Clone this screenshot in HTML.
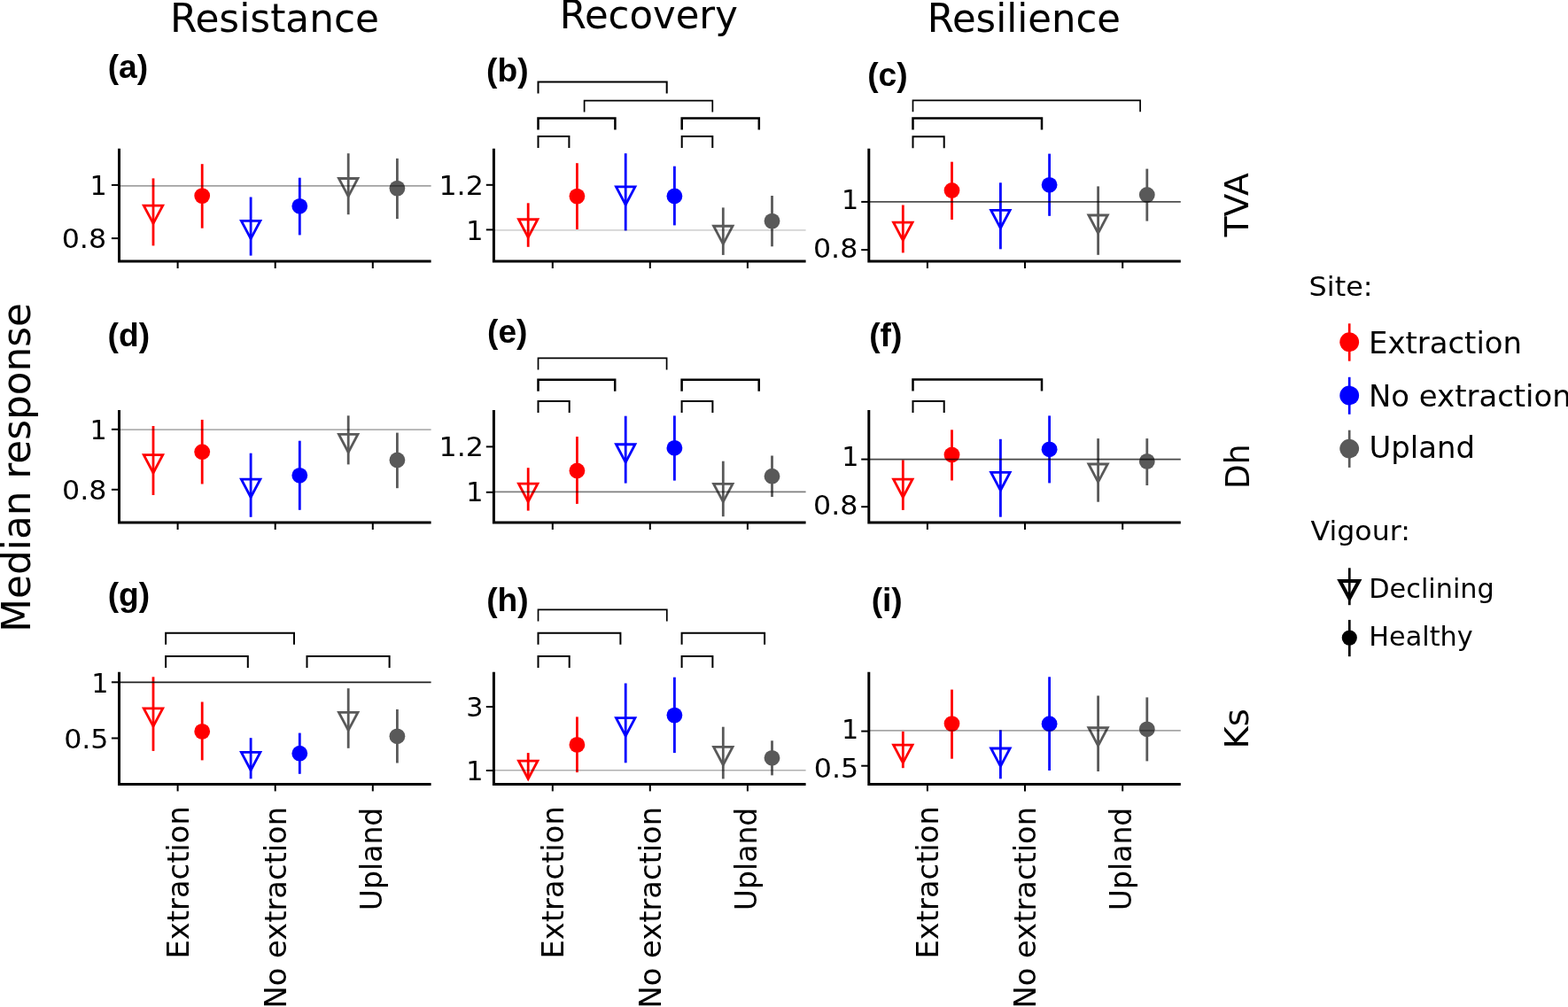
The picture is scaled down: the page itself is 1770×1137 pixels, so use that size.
<!DOCTYPE html>
<html><head><meta charset="utf-8"><title>Median response figure</title>
<style>html,body{margin:0;padding:0;background:#fff;overflow:hidden}svg{display:block}</style>
</head><body>
<svg width="1770" height="1137" viewBox="0 0 1770 1137">
<rect width="1770" height="1137" fill="#fff"/>
<line x1="173" y1="201.4" x2="173" y2="277.4" stroke="#ff0000" stroke-width="2.8"/>
<path d="M162.27 232.05L183.73 232.05L173 252.35Z" fill="none" stroke="#ff0000" stroke-width="2.8" stroke-miterlimit="10"/>
<line x1="228.2" y1="185.2" x2="228.2" y2="257.7" stroke="#ff0000" stroke-width="2.8"/>
<circle cx="228.2" cy="221.1" r="8.9" fill="#ff0000"/>
<line x1="283.1" y1="222.5" x2="283.1" y2="288.6" stroke="#0000ff" stroke-width="2.8"/>
<path d="M272.37 249.3L293.83 249.3L283.1 269.6Z" fill="none" stroke="#0000ff" stroke-width="2.8" stroke-miterlimit="10"/>
<line x1="338.3" y1="200.7" x2="338.3" y2="265.4" stroke="#0000ff" stroke-width="2.8"/>
<circle cx="338.3" cy="232.8" r="8.9" fill="#0000ff"/>
<line x1="393.2" y1="173.2" x2="393.2" y2="242.2" stroke="#595959" stroke-width="2.8"/>
<path d="M382.47 201.5L403.93 201.5L393.2 221.8Z" fill="none" stroke="#595959" stroke-width="2.8" stroke-miterlimit="10"/>
<line x1="448.4" y1="178.9" x2="448.4" y2="247.1" stroke="#595959" stroke-width="2.8"/>
<circle cx="448.4" cy="212.6" r="8.9" fill="#595959"/>
<line x1="134.5" y1="209.8" x2="486.6" y2="209.8" stroke="#000" stroke-opacity="0.37" stroke-width="1.7"/>
<path d="M134.5 167.7V295H486.6" fill="none" stroke="#000" stroke-width="3"/>
<line x1="200.6" y1="295" x2="200.6" y2="303" stroke="#000" stroke-width="2"/>
<line x1="310.7" y1="295" x2="310.7" y2="303" stroke="#000" stroke-width="2"/>
<line x1="420.8" y1="295" x2="420.8" y2="303" stroke="#000" stroke-width="2"/>
<line x1="125.9" y1="208.9" x2="134.5" y2="208.9" stroke="#000" stroke-width="2"/>
<text transform="translate(101.54 220.46)" style="font-family:'DejaVu Sans','Liberation Sans',sans-serif;font-size:30.2px">1</text>
<line x1="125.9" y1="269.1" x2="134.5" y2="269.1" stroke="#000" stroke-width="2"/>
<text transform="translate(69.7 280.31) scale(1.05 1)" style="font-family:'DejaVu Sans','Liberation Sans',sans-serif;font-size:30.2px">0.8</text>
<text transform="translate(121.64 88.07)" style="font-family:'Liberation Sans',Arial,sans-serif;font-weight:bold;font-size:37.2px">(a)</text>
<line x1="596.2" y1="229.3" x2="596.2" y2="278.8" stroke="#ff0000" stroke-width="2.8"/>
<path d="M585.47 247.75L606.93 247.75L596.2 268.05Z" fill="none" stroke="#ff0000" stroke-width="2.8" stroke-miterlimit="10"/>
<line x1="651.4" y1="184.2" x2="651.4" y2="259" stroke="#ff0000" stroke-width="2.8"/>
<circle cx="651.4" cy="221.6" r="8.9" fill="#ff0000"/>
<line x1="706.2" y1="173.2" x2="706.2" y2="260.4" stroke="#0000ff" stroke-width="2.8"/>
<path d="M695.47 210.93L716.93 210.93L706.2 231.23Z" fill="none" stroke="#0000ff" stroke-width="2.8" stroke-miterlimit="10"/>
<line x1="761.4" y1="187.7" x2="761.4" y2="254.4" stroke="#0000ff" stroke-width="2.8"/>
<circle cx="761.4" cy="221.5" r="8.9" fill="#0000ff"/>
<line x1="816.3" y1="234.4" x2="816.3" y2="287.9" stroke="#595959" stroke-width="2.8"/>
<path d="M805.57 255.25L827.03 255.25L816.3 275.55Z" fill="none" stroke="#595959" stroke-width="2.8" stroke-miterlimit="10"/>
<line x1="871.5" y1="221" x2="871.5" y2="278.3" stroke="#595959" stroke-width="2.8"/>
<circle cx="871.5" cy="249.6" r="8.9" fill="#595959"/>
<line x1="557.4" y1="259.8" x2="909.6" y2="259.8" stroke="#000" stroke-opacity="0.17" stroke-width="1.7"/>
<path d="M557.4 167.7V295H909.6" fill="none" stroke="#000" stroke-width="3"/>
<line x1="623.8" y1="295" x2="623.8" y2="303" stroke="#000" stroke-width="2"/>
<line x1="733.8" y1="295" x2="733.8" y2="303" stroke="#000" stroke-width="2"/>
<line x1="843.9" y1="295" x2="843.9" y2="303" stroke="#000" stroke-width="2"/>
<line x1="548.8" y1="208.8" x2="557.4" y2="208.8" stroke="#000" stroke-width="2"/>
<text transform="translate(495.45 220.31) scale(1.05 1)" style="font-family:'DejaVu Sans','Liberation Sans',sans-serif;font-size:30.2px">1.2</text>
<line x1="548.8" y1="259.4" x2="557.4" y2="259.4" stroke="#000" stroke-width="2"/>
<text transform="translate(526.24 270.56)" style="font-family:'DejaVu Sans','Liberation Sans',sans-serif;font-size:30.2px">1</text>
<path d="M607.5 105.6V92.6H752.7V105.6" fill="none" stroke="#000" stroke-width="2"/>
<path d="M659.6 126.6V113.6H804.3V126.6" fill="none" stroke="#000" stroke-width="1.7"/>
<path d="M607.5 146.6V133.6H694.4V146.6" fill="none" stroke="#000" stroke-width="2.5"/>
<path d="M769.7 146.6V133.6H856.8V146.6" fill="none" stroke="#000" stroke-width="2.5"/>
<path d="M607.5 167V154H642.4V167" fill="none" stroke="#000" stroke-width="2"/>
<path d="M769.7 167V154H804.3V167" fill="none" stroke="#000" stroke-width="2"/>
<text transform="translate(549.04 92.17)" style="font-family:'Liberation Sans',Arial,sans-serif;font-weight:bold;font-size:37.2px">(b)</text>
<line x1="1019.3" y1="231.5" x2="1019.3" y2="285.4" stroke="#ff0000" stroke-width="2.8"/>
<path d="M1008.57 251.05L1030.03 251.05L1019.3 271.35Z" fill="none" stroke="#ff0000" stroke-width="2.8" stroke-miterlimit="10"/>
<line x1="1074.5" y1="182.7" x2="1074.5" y2="248" stroke="#ff0000" stroke-width="2.8"/>
<circle cx="1074.5" cy="215" r="8.9" fill="#ff0000"/>
<line x1="1129.4" y1="206.3" x2="1129.4" y2="281.3" stroke="#0000ff" stroke-width="2.8"/>
<path d="M1118.67 237.33L1140.13 237.33L1129.4 257.63Z" fill="none" stroke="#0000ff" stroke-width="2.8" stroke-miterlimit="10"/>
<line x1="1184.6" y1="173.6" x2="1184.6" y2="243.8" stroke="#0000ff" stroke-width="2.8"/>
<circle cx="1184.6" cy="208.8" r="8.9" fill="#0000ff"/>
<line x1="1239.6" y1="210.4" x2="1239.6" y2="287.8" stroke="#595959" stroke-width="2.8"/>
<path d="M1228.87 243L1250.33 243L1239.6 263.3Z" fill="none" stroke="#595959" stroke-width="2.8" stroke-miterlimit="10"/>
<line x1="1294.8" y1="190.6" x2="1294.8" y2="249.6" stroke="#595959" stroke-width="2.8"/>
<circle cx="1294.8" cy="220" r="8.9" fill="#595959"/>
<line x1="980.8" y1="227.9" x2="1332.8" y2="227.9" stroke="#000" stroke-opacity="0.69" stroke-width="1.7"/>
<path d="M980.8 167.7V295H1332.8" fill="none" stroke="#000" stroke-width="3"/>
<line x1="1046.9" y1="295" x2="1046.9" y2="303" stroke="#000" stroke-width="2"/>
<line x1="1157" y1="295" x2="1157" y2="303" stroke="#000" stroke-width="2"/>
<line x1="1267.2" y1="295" x2="1267.2" y2="303" stroke="#000" stroke-width="2"/>
<line x1="972.2" y1="227.9" x2="980.8" y2="227.9" stroke="#000" stroke-width="2"/>
<text transform="translate(950.04 235.81)" style="font-family:'DejaVu Sans','Liberation Sans',sans-serif;font-size:30.2px">1</text>
<line x1="972.2" y1="282.1" x2="980.8" y2="282.1" stroke="#000" stroke-width="2"/>
<text transform="translate(917.9 290.61) scale(1.05 1)" style="font-family:'DejaVu Sans','Liberation Sans',sans-serif;font-size:30.2px">0.8</text>
<path d="M1030.5 126.3V113.3H1287.1V126.3" fill="none" stroke="#000" stroke-width="1.7"/>
<path d="M1030.5 146.6V133.6H1176V146.6" fill="none" stroke="#000" stroke-width="2.5"/>
<path d="M1030.5 167.3V154.3H1065.7V167.3" fill="none" stroke="#000" stroke-width="2"/>
<text transform="translate(979.14 97.27)" style="font-family:'Liberation Sans',Arial,sans-serif;font-weight:bold;font-size:37.2px">(c)</text>
<line x1="173" y1="481" x2="173" y2="559" stroke="#ff0000" stroke-width="2.8"/>
<path d="M162.27 513.65L183.73 513.65L173 533.95Z" fill="none" stroke="#ff0000" stroke-width="2.8" stroke-miterlimit="10"/>
<line x1="228.2" y1="473.9" x2="228.2" y2="546.5" stroke="#ff0000" stroke-width="2.8"/>
<circle cx="228.2" cy="510.2" r="8.9" fill="#ff0000"/>
<line x1="283.1" y1="511.7" x2="283.1" y2="583.8" stroke="#0000ff" stroke-width="2.8"/>
<path d="M272.37 541.15L293.83 541.15L283.1 561.45Z" fill="none" stroke="#0000ff" stroke-width="2.8" stroke-miterlimit="10"/>
<line x1="338.3" y1="497.7" x2="338.3" y2="575.8" stroke="#0000ff" stroke-width="2.8"/>
<circle cx="338.3" cy="536.8" r="8.9" fill="#0000ff"/>
<line x1="393.2" y1="469.3" x2="393.2" y2="524.4" stroke="#595959" stroke-width="2.8"/>
<path d="M382.47 490.45L403.93 490.45L393.2 510.75Z" fill="none" stroke="#595959" stroke-width="2.8" stroke-miterlimit="10"/>
<line x1="448.4" y1="488.6" x2="448.4" y2="551.2" stroke="#595959" stroke-width="2.8"/>
<circle cx="448.4" cy="519.5" r="8.9" fill="#595959"/>
<line x1="134.5" y1="485.1" x2="486.6" y2="485.1" stroke="#000" stroke-opacity="0.31" stroke-width="1.7"/>
<path d="M134.5 462.9V590H486.6" fill="none" stroke="#000" stroke-width="3"/>
<line x1="200.6" y1="590" x2="200.6" y2="598" stroke="#000" stroke-width="2"/>
<line x1="310.7" y1="590" x2="310.7" y2="598" stroke="#000" stroke-width="2"/>
<line x1="420.8" y1="590" x2="420.8" y2="598" stroke="#000" stroke-width="2"/>
<line x1="125.9" y1="484.8" x2="134.5" y2="484.8" stroke="#000" stroke-width="2"/>
<text transform="translate(101.54 495.91)" style="font-family:'DejaVu Sans','Liberation Sans',sans-serif;font-size:30.2px">1</text>
<line x1="125.9" y1="552.8" x2="134.5" y2="552.8" stroke="#000" stroke-width="2"/>
<text transform="translate(70 564.21) scale(1.05 1)" style="font-family:'DejaVu Sans','Liberation Sans',sans-serif;font-size:30.2px">0.8</text>
<text transform="translate(121.54 391.17)" style="font-family:'Liberation Sans',Arial,sans-serif;font-weight:bold;font-size:37.2px">(d)</text>
<line x1="596.2" y1="528.2" x2="596.2" y2="576.6" stroke="#ff0000" stroke-width="2.8"/>
<path d="M585.47 546.1L606.93 546.1L596.2 566.4Z" fill="none" stroke="#ff0000" stroke-width="2.8" stroke-miterlimit="10"/>
<line x1="651.4" y1="493" x2="651.4" y2="568.9" stroke="#ff0000" stroke-width="2.8"/>
<circle cx="651.4" cy="531.5" r="8.9" fill="#ff0000"/>
<line x1="706.2" y1="469.7" x2="706.2" y2="545.6" stroke="#0000ff" stroke-width="2.8"/>
<path d="M695.47 501.73L716.93 501.73L706.2 522.03Z" fill="none" stroke="#0000ff" stroke-width="2.8" stroke-miterlimit="10"/>
<line x1="761.4" y1="469.4" x2="761.4" y2="542.6" stroke="#0000ff" stroke-width="2.8"/>
<circle cx="761.4" cy="505.8" r="8.9" fill="#0000ff"/>
<line x1="816.3" y1="520.7" x2="816.3" y2="583.2" stroke="#595959" stroke-width="2.8"/>
<path d="M805.57 546.3L827.03 546.3L816.3 566.6Z" fill="none" stroke="#595959" stroke-width="2.8" stroke-miterlimit="10"/>
<line x1="871.5" y1="514.5" x2="871.5" y2="561" stroke="#595959" stroke-width="2.8"/>
<circle cx="871.5" cy="537.7" r="8.9" fill="#595959"/>
<line x1="557.4" y1="555.3" x2="909.6" y2="555.3" stroke="#000" stroke-opacity="0.5" stroke-width="1.7"/>
<path d="M557.4 462.9V590H909.6" fill="none" stroke="#000" stroke-width="3"/>
<line x1="623.8" y1="590" x2="623.8" y2="598" stroke="#000" stroke-width="2"/>
<line x1="733.8" y1="590" x2="733.8" y2="598" stroke="#000" stroke-width="2"/>
<line x1="843.9" y1="590" x2="843.9" y2="598" stroke="#000" stroke-width="2"/>
<line x1="548.8" y1="504.4" x2="557.4" y2="504.4" stroke="#000" stroke-width="2"/>
<text transform="translate(495.55 515.41) scale(1.05 1)" style="font-family:'DejaVu Sans','Liberation Sans',sans-serif;font-size:30.2px">1.2</text>
<line x1="548.8" y1="555.8" x2="557.4" y2="555.8" stroke="#000" stroke-width="2"/>
<text transform="translate(526.34 565.51)" style="font-family:'DejaVu Sans','Liberation Sans',sans-serif;font-size:30.2px">1</text>
<path d="M607.5 417.4V404.4H752.6V417.4" fill="none" stroke="#000" stroke-width="1.7"/>
<path d="M607.5 441.8V428.8H694.2V441.8" fill="none" stroke="#000" stroke-width="2.5"/>
<path d="M769.6 441.8V428.8H856.7V441.8" fill="none" stroke="#000" stroke-width="2.5"/>
<path d="M607.5 466.1V453.1H642.7V466.1" fill="none" stroke="#000" stroke-width="2"/>
<path d="M769.6 466.1V453.1H804.4V466.1" fill="none" stroke="#000" stroke-width="2"/>
<text transform="translate(550.04 387.47)" style="font-family:'Liberation Sans',Arial,sans-serif;font-weight:bold;font-size:37.2px">(e)</text>
<line x1="1019.3" y1="519.4" x2="1019.3" y2="575.9" stroke="#ff0000" stroke-width="2.8"/>
<path d="M1008.57 541.15L1030.03 541.15L1019.3 561.45Z" fill="none" stroke="#ff0000" stroke-width="2.8" stroke-miterlimit="10"/>
<line x1="1074.5" y1="485.3" x2="1074.5" y2="542.5" stroke="#ff0000" stroke-width="2.8"/>
<circle cx="1074.5" cy="513.5" r="8.9" fill="#ff0000"/>
<line x1="1129.4" y1="495.8" x2="1129.4" y2="583.7" stroke="#0000ff" stroke-width="2.8"/>
<path d="M1118.67 533.45L1140.13 533.45L1129.4 553.75Z" fill="none" stroke="#0000ff" stroke-width="2.8" stroke-miterlimit="10"/>
<line x1="1184.6" y1="469.4" x2="1184.6" y2="545.4" stroke="#0000ff" stroke-width="2.8"/>
<circle cx="1184.6" cy="507.3" r="8.9" fill="#0000ff"/>
<line x1="1239.6" y1="495.1" x2="1239.6" y2="566.7" stroke="#595959" stroke-width="2.8"/>
<path d="M1228.87 524L1250.33 524L1239.6 544.3Z" fill="none" stroke="#595959" stroke-width="2.8" stroke-miterlimit="10"/>
<line x1="1294.8" y1="495.1" x2="1294.8" y2="548" stroke="#595959" stroke-width="2.8"/>
<circle cx="1294.8" cy="520.9" r="8.9" fill="#595959"/>
<line x1="980.8" y1="518.7" x2="1332.8" y2="518.7" stroke="#000" stroke-opacity="0.72" stroke-width="1.7"/>
<path d="M980.8 462.9V590H1332.8" fill="none" stroke="#000" stroke-width="3"/>
<line x1="1046.9" y1="590" x2="1046.9" y2="598" stroke="#000" stroke-width="2"/>
<line x1="1157" y1="590" x2="1157" y2="598" stroke="#000" stroke-width="2"/>
<line x1="1267.2" y1="590" x2="1267.2" y2="598" stroke="#000" stroke-width="2"/>
<line x1="972.2" y1="518.6" x2="980.8" y2="518.6" stroke="#000" stroke-width="2"/>
<text transform="translate(950.14 526.11)" style="font-family:'DejaVu Sans','Liberation Sans',sans-serif;font-size:30.2px">1</text>
<line x1="972.2" y1="572.2" x2="980.8" y2="572.2" stroke="#000" stroke-width="2"/>
<text transform="translate(918.1 580.51) scale(1.05 1)" style="font-family:'DejaVu Sans','Liberation Sans',sans-serif;font-size:30.2px">0.8</text>
<path d="M1030.5 441.5V428.5H1176V441.5" fill="none" stroke="#000" stroke-width="2.5"/>
<path d="M1030.5 466V453H1065.7V466" fill="none" stroke="#000" stroke-width="2"/>
<text transform="translate(981.14 391.17)" style="font-family:'Liberation Sans',Arial,sans-serif;font-weight:bold;font-size:37.2px">(f)</text>
<line x1="173" y1="764.3" x2="173" y2="847.9" stroke="#ff0000" stroke-width="2.8"/>
<path d="M162.27 799.8L183.73 799.8L173 820.1Z" fill="none" stroke="#ff0000" stroke-width="2.8" stroke-miterlimit="10"/>
<line x1="228.2" y1="792.5" x2="228.2" y2="858.4" stroke="#ff0000" stroke-width="2.8"/>
<circle cx="228.2" cy="825.9" r="8.9" fill="#ff0000"/>
<line x1="283.1" y1="833.2" x2="283.1" y2="879.3" stroke="#0000ff" stroke-width="2.8"/>
<path d="M272.37 849.45L293.83 849.45L283.1 869.75Z" fill="none" stroke="#0000ff" stroke-width="2.8" stroke-miterlimit="10"/>
<line x1="338.3" y1="827.6" x2="338.3" y2="873.8" stroke="#0000ff" stroke-width="2.8"/>
<circle cx="338.3" cy="850.7" r="8.9" fill="#0000ff"/>
<line x1="393.2" y1="777.2" x2="393.2" y2="844.8" stroke="#595959" stroke-width="2.8"/>
<path d="M382.47 804.3L403.93 804.3L393.2 824.6Z" fill="none" stroke="#595959" stroke-width="2.8" stroke-miterlimit="10"/>
<line x1="448.4" y1="800.9" x2="448.4" y2="861.5" stroke="#595959" stroke-width="2.8"/>
<circle cx="448.4" cy="831.3" r="8.9" fill="#595959"/>
<line x1="134.5" y1="770.4" x2="486.6" y2="770.4" stroke="#000" stroke-opacity="0.87" stroke-width="1.7"/>
<path d="M134.5 758.8V885.4H486.6" fill="none" stroke="#000" stroke-width="3"/>
<line x1="200.6" y1="885.4" x2="200.6" y2="893.4" stroke="#000" stroke-width="2"/>
<line x1="310.7" y1="885.4" x2="310.7" y2="893.4" stroke="#000" stroke-width="2"/>
<line x1="420.8" y1="885.4" x2="420.8" y2="893.4" stroke="#000" stroke-width="2"/>
<line x1="125.9" y1="770.3" x2="134.5" y2="770.3" stroke="#000" stroke-width="2"/>
<text transform="translate(103.24 782.11)" style="font-family:'DejaVu Sans','Liberation Sans',sans-serif;font-size:30.2px">1</text>
<line x1="125.9" y1="833.5" x2="134.5" y2="833.5" stroke="#000" stroke-width="2"/>
<text transform="translate(72.13 845.11) scale(1.05 1)" style="font-family:'DejaVu Sans','Liberation Sans',sans-serif;font-size:30.2px">0.5</text>
<path d="M187.1 727.8V714.8H332V727.8" fill="none" stroke="#000" stroke-width="2"/>
<path d="M187.1 754.1V741.1H279.8V754.1" fill="none" stroke="#000" stroke-width="2"/>
<path d="M346.5 754.1V741.1H439.6V754.1" fill="none" stroke="#000" stroke-width="2"/>
<text transform="translate(121.64 684.17)" style="font-family:'Liberation Sans',Arial,sans-serif;font-weight:bold;font-size:37.2px">(g)</text>
<line x1="596.2" y1="850.1" x2="596.2" y2="878.7" stroke="#ff0000" stroke-width="2.8"/>
<path d="M585.47 859.2L606.93 859.2L596.2 879.5Z" fill="none" stroke="#ff0000" stroke-width="2.8" stroke-miterlimit="10"/>
<line x1="651.4" y1="809.4" x2="651.4" y2="872.1" stroke="#ff0000" stroke-width="2.8"/>
<circle cx="651.4" cy="840.9" r="8.9" fill="#ff0000"/>
<line x1="706.2" y1="771.5" x2="706.2" y2="861.3" stroke="#0000ff" stroke-width="2.8"/>
<path d="M695.47 810.58L716.93 810.58L706.2 830.88Z" fill="none" stroke="#0000ff" stroke-width="2.8" stroke-miterlimit="10"/>
<line x1="761.4" y1="764.7" x2="761.4" y2="850.1" stroke="#0000ff" stroke-width="2.8"/>
<circle cx="761.4" cy="807.6" r="8.9" fill="#0000ff"/>
<line x1="816.3" y1="820.7" x2="816.3" y2="879.4" stroke="#595959" stroke-width="2.8"/>
<path d="M805.57 843.35L827.03 843.35L816.3 863.65Z" fill="none" stroke="#595959" stroke-width="2.8" stroke-miterlimit="10"/>
<line x1="871.5" y1="836.3" x2="871.5" y2="875.4" stroke="#595959" stroke-width="2.8"/>
<circle cx="871.5" cy="855.8" r="8.9" fill="#595959"/>
<line x1="557.4" y1="869.75" x2="909.6" y2="869.75" stroke="#000" stroke-opacity="0.31" stroke-width="1.7"/>
<path d="M557.4 758.8V885.4H909.6" fill="none" stroke="#000" stroke-width="3"/>
<line x1="623.8" y1="885.4" x2="623.8" y2="893.4" stroke="#000" stroke-width="2"/>
<line x1="733.8" y1="885.4" x2="733.8" y2="893.4" stroke="#000" stroke-width="2"/>
<line x1="843.9" y1="885.4" x2="843.9" y2="893.4" stroke="#000" stroke-width="2"/>
<line x1="548.8" y1="798" x2="557.4" y2="798" stroke="#000" stroke-width="2"/>
<text transform="translate(526.34 809.31)" style="font-family:'DejaVu Sans','Liberation Sans',sans-serif;font-size:30.2px">3</text>
<line x1="548.8" y1="870" x2="557.4" y2="870" stroke="#000" stroke-width="2"/>
<text transform="translate(526.14 881.41)" style="font-family:'DejaVu Sans','Liberation Sans',sans-serif;font-size:30.2px">1</text>
<path d="M607.5 701.4V688.4H752.8V701.4" fill="none" stroke="#000" stroke-width="1.7"/>
<path d="M607.5 727.7V714.7H700.4V727.7" fill="none" stroke="#000" stroke-width="2"/>
<path d="M769.6 727.7V714.7H863.1V727.7" fill="none" stroke="#000" stroke-width="2"/>
<path d="M607.5 754V741H642.7V754" fill="none" stroke="#000" stroke-width="2"/>
<path d="M769.6 754V741H804.4V754" fill="none" stroke="#000" stroke-width="2"/>
<text transform="translate(549.24 690.47)" style="font-family:'Liberation Sans',Arial,sans-serif;font-weight:bold;font-size:37.2px">(h)</text>
<line x1="1019.3" y1="825.9" x2="1019.3" y2="867.2" stroke="#ff0000" stroke-width="2.8"/>
<path d="M1008.57 841.05L1030.03 841.05L1019.3 861.35Z" fill="none" stroke="#ff0000" stroke-width="2.8" stroke-miterlimit="10"/>
<line x1="1074.5" y1="778.6" x2="1074.5" y2="856.7" stroke="#ff0000" stroke-width="2.8"/>
<circle cx="1074.5" cy="817.1" r="8.9" fill="#ff0000"/>
<line x1="1129.4" y1="824.3" x2="1129.4" y2="879.3" stroke="#0000ff" stroke-width="2.8"/>
<path d="M1118.67 845L1140.13 845L1129.4 865.3Z" fill="none" stroke="#0000ff" stroke-width="2.8" stroke-miterlimit="10"/>
<line x1="1184.6" y1="764.3" x2="1184.6" y2="870" stroke="#0000ff" stroke-width="2.8"/>
<circle cx="1184.6" cy="817.2" r="8.9" fill="#0000ff"/>
<line x1="1239.6" y1="785.5" x2="1239.6" y2="871" stroke="#595959" stroke-width="2.8"/>
<path d="M1228.87 821.75L1250.33 821.75L1239.6 842.05Z" fill="none" stroke="#595959" stroke-width="2.8" stroke-miterlimit="10"/>
<line x1="1294.8" y1="787.4" x2="1294.8" y2="859.4" stroke="#595959" stroke-width="2.8"/>
<circle cx="1294.8" cy="823.3" r="8.9" fill="#595959"/>
<line x1="980.8" y1="824.95" x2="1332.8" y2="824.95" stroke="#000" stroke-opacity="0.35" stroke-width="1.7"/>
<path d="M980.8 758.8V885.4H1332.8" fill="none" stroke="#000" stroke-width="3"/>
<line x1="1046.9" y1="885.4" x2="1046.9" y2="893.4" stroke="#000" stroke-width="2"/>
<line x1="1157" y1="885.4" x2="1157" y2="893.4" stroke="#000" stroke-width="2"/>
<line x1="1267.2" y1="885.4" x2="1267.2" y2="893.4" stroke="#000" stroke-width="2"/>
<line x1="972.2" y1="825.6" x2="980.8" y2="825.6" stroke="#000" stroke-width="2"/>
<text transform="translate(949.94 833.91)" style="font-family:'DejaVu Sans','Liberation Sans',sans-serif;font-size:30.2px">1</text>
<line x1="972.2" y1="864.7" x2="980.8" y2="864.7" stroke="#000" stroke-width="2"/>
<text transform="translate(918.83 877.71) scale(1.05 1)" style="font-family:'DejaVu Sans','Liberation Sans',sans-serif;font-size:30.2px">0.5</text>
<text transform="translate(983.64 690.17)" style="font-family:'Liberation Sans',Arial,sans-serif;font-weight:bold;font-size:37.2px">(i)</text>
<text transform="translate(191.93 35.6) scale(1 1)" style="font-family:'DejaVu Sans','Liberation Sans',sans-serif;font-size:43.8px">Resistance</text>
<text transform="translate(631.75 31.6) scale(0.99 1)" style="font-family:'DejaVu Sans','Liberation Sans',sans-serif;font-size:43.8px">Recovery</text>
<text transform="translate(1046.75 36) scale(0.99 1)" style="font-family:'DejaVu Sans','Liberation Sans',sans-serif;font-size:43.8px">Resilience</text>
<text transform="translate(1409 267.61) rotate(-90) scale(1.03 1)" style="font-family:'DejaVu Sans','Liberation Sans',sans-serif;font-size:36.7px">TVA</text>
<text transform="translate(1409.5 552.01) rotate(-90) scale(0.98 1)" style="font-family:'DejaVu Sans','Liberation Sans',sans-serif;font-size:36.7px">Dh</text>
<text transform="translate(1408.6 845.55) rotate(-90) scale(1.05 1)" style="font-family:'DejaVu Sans','Liberation Sans',sans-serif;font-size:36.7px">Ks</text>
<text transform="translate(212.8 1082.46) rotate(-90) scale(0.99 1)" style="font-family:'DejaVu Sans','Liberation Sans',sans-serif;font-size:34.1px">Extraction</text>
<text transform="translate(323 1138.57) rotate(-90) scale(0.99 1)" style="font-family:'DejaVu Sans','Liberation Sans',sans-serif;font-size:34.1px">No extraction</text>
<text transform="translate(430.6 1028.22) rotate(-90) scale(0.97 1)" style="font-family:'DejaVu Sans','Liberation Sans',sans-serif;font-size:34.1px">Upland</text>
<text transform="translate(636 1082.46) rotate(-90) scale(0.99 1)" style="font-family:'DejaVu Sans','Liberation Sans',sans-serif;font-size:34.1px">Extraction</text>
<text transform="translate(746.2 1138.57) rotate(-90) scale(0.99 1)" style="font-family:'DejaVu Sans','Liberation Sans',sans-serif;font-size:34.1px">No extraction</text>
<text transform="translate(853.8 1028.22) rotate(-90) scale(0.97 1)" style="font-family:'DejaVu Sans','Liberation Sans',sans-serif;font-size:34.1px">Upland</text>
<text transform="translate(1059.1 1082.46) rotate(-90) scale(0.99 1)" style="font-family:'DejaVu Sans','Liberation Sans',sans-serif;font-size:34.1px">Extraction</text>
<text transform="translate(1169.3 1138.57) rotate(-90) scale(0.99 1)" style="font-family:'DejaVu Sans','Liberation Sans',sans-serif;font-size:34.1px">No extraction</text>
<text transform="translate(1276.9 1028.22) rotate(-90) scale(0.97 1)" style="font-family:'DejaVu Sans','Liberation Sans',sans-serif;font-size:34.1px">Upland</text>
<text transform="translate(34.3 713.69) rotate(-90) scale(0.99 1)" style="font-family:'DejaVu Sans','Liberation Sans',sans-serif;font-size:44.2px">Median response</text>
<text transform="translate(1477.62 333.5) scale(1.06 1)" style="font-family:'DejaVu Sans','Liberation Sans',sans-serif;font-size:30.1px">Site:</text>
<line x1="1523.2" y1="365.3" x2="1523.2" y2="407.7" stroke="#ff0000" stroke-width="2.7"/>
<circle cx="1523.2" cy="386.2" r="10.9" fill="#ff0000"/>
<text transform="translate(1545.03 398.8) scale(1 1)" style="font-family:'DejaVu Sans','Liberation Sans',sans-serif;font-size:33.9px">Extraction</text>
<line x1="1523.2" y1="425.8" x2="1523.2" y2="467.8" stroke="#0000ff" stroke-width="2.7"/>
<circle cx="1523.2" cy="446.5" r="10.9" fill="#0000ff"/>
<text transform="translate(1545.01 459.2)" style="font-family:'DejaVu Sans','Liberation Sans',sans-serif;font-size:33.9px">No extraction</text>
<line x1="1523.2" y1="485.7" x2="1523.2" y2="527.9" stroke="#595959" stroke-width="2.7"/>
<circle cx="1523.2" cy="506.6" r="10.9" fill="#595959"/>
<text transform="translate(1545.53 516.5) scale(1 1)" style="font-family:'DejaVu Sans','Liberation Sans',sans-serif;font-size:33.9px">Upland</text>
<text transform="translate(1479.58 610) scale(1.04 1)" style="font-family:'DejaVu Sans','Liberation Sans',sans-serif;font-size:30.4px">Vigour:</text>
<line x1="1523.3" y1="641.3" x2="1523.3" y2="683.2" stroke="#000" stroke-width="2.7"/>
<path d="M1512.56 656L1534.04 656L1523.3 675.8Z" fill="none" stroke="#000" stroke-width="4" stroke-miterlimit="10"/>
<text transform="translate(1545.27 674.6)" style="font-family:'DejaVu Sans','Liberation Sans',sans-serif;font-size:30.3px">Declining</text>
<line x1="1523.3" y1="699.9" x2="1523.3" y2="741.2" stroke="#000" stroke-width="2.7"/>
<circle cx="1523.3" cy="720.1" r="8.6" fill="#000"/>
<text transform="translate(1545.28 729.1) scale(1.01 1)" style="font-family:'DejaVu Sans','Liberation Sans',sans-serif;font-size:30px">Healthy</text>
</svg>
</body></html>
